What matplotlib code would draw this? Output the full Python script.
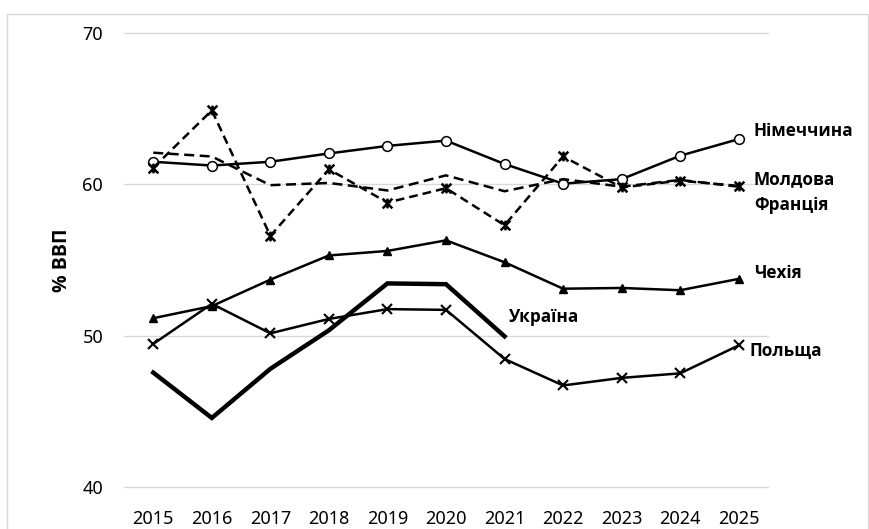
import matplotlib
matplotlib.use("Agg")
import matplotlib.pyplot as plt
from matplotlib.path import Path
from matplotlib.patches import Rectangle

plt.rcParams["font.family"] = ["Noto Sans", "DejaVu Sans"]
BOLD = ["Open Sans", "DejaVu Sans"]

YEARS = [str(y) for y in range(2015, 2026)]

germany = [61.5, 61.25, 61.5, 62.05, 62.55, 62.9, 61.35, 60.05, 60.35, 61.9, 63.0]
moldova = [61.1, 64.9, 56.6, 61.0, 58.8, 59.75, 57.3, 61.85, 59.8, 60.25, 59.9]
france = [62.1, 61.85, 59.95, 60.1, 59.6, 60.6, 59.55, 60.35, 59.85, 60.3, 59.85]
czech = [51.15, 51.95, 53.7, 55.3, 55.6, 56.3, 54.85, 53.1, 53.15, 53.0, 53.75]
poland = [49.45, 52.1, 50.15, 51.1, 51.75, 51.7, 48.45, 46.7, 47.2, 47.5, 49.35]
ukraine = [47.55, 44.55, 47.8, 50.35, 53.45, 53.4, 49.95]

# (text, x, y) for the end-of-line labels
labels = [
    ("Німеччина", 10.26, 63.55),
    ("Молдова", 10.26, 60.35),
    ("Франція", 10.26, 58.65),
    ("Чехія", 10.26, 54.15),
    ("Польща", 10.18, 49.0),
    ("Україна", 6.07, 51.25),
]

# Excel-like "star" marker: X with a vertical bar
star = Path([(-1, -1), (1, 1), (-1, 1), (1, -1), (0, -1), (0, 1)],
            [Path.MOVETO, Path.LINETO, Path.MOVETO, Path.LINETO, Path.MOVETO, Path.LINETO])

W, H = 869, 529
fig = plt.figure(figsize=(W / 100, H / 100), dpi=100)
ax = fig.add_axes([124 / W, 1 - 486.7 / H, (768 - 124) / W, (486.7 - 33.3) / H])

fig.patches.append(Rectangle((7 / W, -0.1), (868 - 7) / W, 1.1 - 14 / H,
                             transform=fig.transFigure, fill=False,
                             edgecolor="#d9d9d9", lw=1))

x = list(range(len(YEARS)))
ax.plot(x, germany, "-", color="black", lw=1.8, marker="o", ms=7,
        mfc="white", mec="black", mew=1.1)
ax.plot(x, france, color="black", lw=1.8, ls=(0, (4, 2.2)))
ax.plot(x, moldova, color="black", lw=1.8, ls=(0, (3.5, 2)), marker=star, ms=7, mew=1.8)
ax.plot(x, czech, "-", color="black", lw=1.8, marker="^", ms=6)
ax.plot(x, poland, "-", color="black", lw=1.8, marker="x", ms=7, mew=1.5)
ax.plot(x[:len(ukraine)], ukraine, "-", color="black", lw=3.2, solid_joinstyle="miter")

for txt, tx, ty in labels:
    ax.text(tx, ty, txt, fontsize=12.3, fontweight="bold", family=BOLD,
            ha="left", va="center")

ax.set_xlim(-0.5, len(YEARS) - 0.5)
ax.set_ylim(40, 70)
ax.set_yticks([40, 50, 60, 70])
ax.set_xticks(x)
ax.set_xticklabels(YEARS)
ax.tick_params(axis="both", length=0, labelsize=13)
ax.tick_params(axis="x", pad=17)
ax.tick_params(axis="y", pad=15)
ax.grid(axis="y", color="#d9d9d9", lw=1, clip_on=False)
ax.set_axisbelow(True)
for s in ax.spines.values():
    s.set_visible(False)

fig.text(62 / W, 1 - 260 / H, "% ВВП", rotation=90, fontsize=14,
         fontweight="bold", family=BOLD, ha="center", va="center")

fig.savefig("out.png", dpi=100)
